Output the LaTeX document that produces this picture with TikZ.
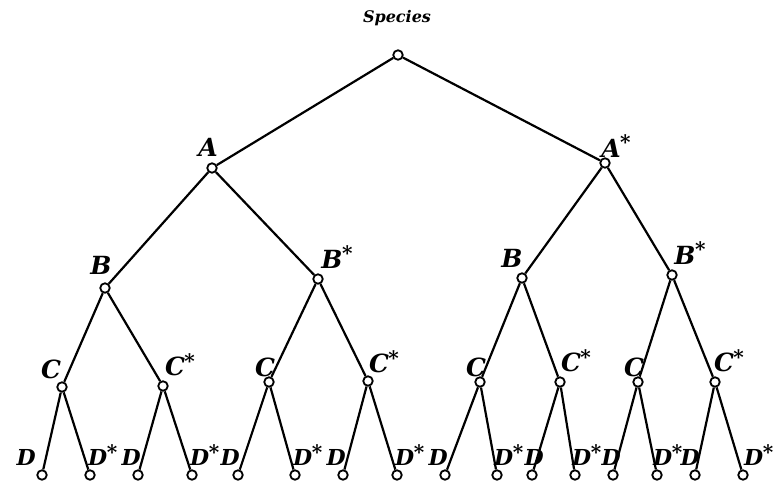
\documentclass[tikz,border=0pt]{standalone}
\usepackage{fontspec}
\setmainfont{DejaVu Serif}
\newcommand{\st}{\kern-0.5pt\raisebox{0.30em}{\fontsize{20}{20}\selectfont *}}
\begin{document}
\begin{tikzpicture}[x=1pt,y=-1pt,
  dot/.style={circle,draw,line width=1.8pt,inner sep=0pt,minimum size=9.5pt,fill=white},
  branch/.style={line width=2.2pt},
  lab/.style={font=\fontsize{25}{25}\selectfont\bfseries\itshape,inner sep=0pt},
  leaflab/.style={font=\fontsize{22}{22}\selectfont\bfseries\itshape,inner sep=0pt},
  title/.style={font=\fontsize{16}{16}\selectfont\bfseries\itshape,inner sep=0pt}]
\useasboundingbox (0,0) rectangle (783,481);

% branching points
\node[dot] (r) at (398,55) {};
\node[dot] (a) at (212,168) {};
\node[dot] (as) at (605,163) {};
\node[dot] (b1) at (105,288) {};
\node[dot] (b1s) at (318,279) {};
\node[dot] (b2) at (522,278) {};
\node[dot] (b2s) at (672,275) {};
\node[dot] (c1) at (62,387) {};
\node[dot] (c1s) at (163,386) {};
\node[dot] (c2) at (269,382) {};
\node[dot] (c2s) at (368,381) {};
\node[dot] (c3) at (480,382) {};
\node[dot] (c3s) at (560,382) {};
\node[dot] (c4) at (638,382) {};
\node[dot] (c4s) at (715,382) {};
% leaves
\foreach \i/\x in {1/42,2/90,3/138,4/192,5/238,6/295,7/343,8/397,
                   9/445,10/497,11/532,12/575,13/613,14/657,15/695,16/743}
  \node[dot] (d\i) at (\x,475) {};

% branches
\draw[branch] (r) -- (a);  \draw[branch] (r) -- (as);
\draw[branch] (a) -- (b1); \draw[branch] (a) -- (b1s);
\draw[branch] (as) -- (b2); \draw[branch] (as) -- (b2s);
\draw[branch] (b1) -- (c1);  \draw[branch] (b1) -- (c1s);
\draw[branch] (b1s) -- (c2); \draw[branch] (b1s) -- (c2s);
\draw[branch] (b2) -- (c3);  \draw[branch] (b2) -- (c3s);
\draw[branch] (b2s) -- (c4); \draw[branch] (b2s) -- (c4s);
\draw[branch] (c1) -- (d1);   \draw[branch] (c1) -- (d2);
\draw[branch] (c1s) -- (d3);  \draw[branch] (c1s) -- (d4);
\draw[branch] (c2) -- (d5);   \draw[branch] (c2) -- (d6);
\draw[branch] (c2s) -- (d7);  \draw[branch] (c2s) -- (d8);
\draw[branch] (c3) -- (d9);   \draw[branch] (c3) -- (d10);
\draw[branch] (c3s) -- (d11); \draw[branch] (c3s) -- (d12);
\draw[branch] (c4) -- (d13);  \draw[branch] (c4) -- (d14);
\draw[branch] (c4s) -- (d15); \draw[branch] (c4s) -- (d16);

% labels
\node[title] (tr) at (397,18) {Species};
\node[lab] (la) at (208,147) {A};
\node[lab] (las) at (616,146) {A\st};
\node[lab] (lb1) at (101,265) {B};
\node[lab] (lb1s) at (337,257) {B\st};
\node[lab] (lb2) at (512,258) {B};
\node[lab] (lb2s) at (690,253) {B\st};
\node[lab] (lc1) at (51,369) {C};
\node[lab] (lc1s) at (180,365) {C\st};
\node[lab] (lc2) at (265,367) {C};
\node[lab] (lc2s) at (384,362) {C\st};
\node[lab] (lc3) at (476,367) {C};
\node[lab] (lc3s) at (576,361) {C\st};
\node[lab] (lc4) at (634,367) {C};
\node[lab] (lc4s) at (729,361) {C\st};

% leaf labels: plain ones end at the leaf, starred ones start at it
\tikzset{dl/.style={leaflab,anchor=east}, dsl/.style={leaflab,anchor=west}}
\node[dl] (ld1) at (36,457) {D};
\node[dsl] (ld2) at (88,455) {D\st};
\node[dl] (ld3) at (141,457) {D};
\node[dsl] (ld4) at (190,455) {D\st};
\node[dl] (ld5) at (240,457) {D};
\node[dsl] (ld6) at (293,455) {D\st};
\node[dl] (ld7) at (346,457) {D};
\node[dsl] (ld8) at (395,455) {D\st};
\node[dl] (ld9) at (448,457) {D};
\node[dsl] (ld10) at (494,455) {D\st};
\node[dl] (ld11) at (544,457) {D};
\node[dsl] (ld12) at (572,455) {D\st};
\node[dl] (ld13) at (621,457) {D};
\node[dsl] (ld14) at (653,455) {D\st};
\node[dl] (ld15) at (700,457) {D};
\node[dsl] (ld16) at (744,455) {D\st};
\end{tikzpicture}
\end{document}
